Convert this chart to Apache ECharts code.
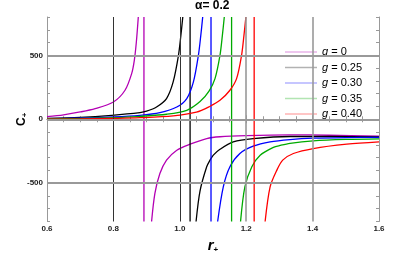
<!DOCTYPE html>
<html><head><meta charset="utf-8">
<script src="https://cdn.jsdelivr.net/npm/echarts@6/dist/echarts.min.js"></script>
<style>html,body{margin:0;padding:0;background:#fff}#c{width:415px;height:260px}</style>
</head><body><div id="c"></div>
<script>
// ---- data ----
const gLabels = ['g = 0', 'g = 0.25', 'g = 0.30', 'g = 0.35', 'g = 0.40'];
const poles = [0.892, 1.031, 1.094, 1.156, 1.224];

const upR_g0 = [0.6, 0.65, 0.7, 0.745, 0.8, 0.835, 0.855, 0.863, 0.869, 0.875];
const upC_g0 = [20, 35, 57, 83, 135, 227, 357, 461, 600, 800];
const loR_g0 = [0.915, 0.925, 0.94, 0.96, 0.991, 1.031, 1.081, 1.121, 1.2, 1.33, 1.45, 1.6];
const loC_g0 = [-800, -580, -425, -320, -242, -195, -151, -137, -128, -122, -125, -132];

const upR_g25 = [0.6, 0.7, 0.795, 0.88, 0.9, 0.93, 0.96, 0.98, 0.996, 1.003, 1.009];
const upC_g25 = [7, 15, 31, 52, 63, 96, 162, 292, 500, 650, 800];
const loR_g25 = [1.049, 1.061, 1.081, 1.091, 1.101, 1.121, 1.161, 1.221, 1.332, 1.45, 1.6];
const loC_g25 = [-800, -560, -372, -320, -281, -235, -177, -151, -135, -135, -138];

const upR_g30 = [0.6, 0.7, 0.8, 0.88, 0.94, 0.991, 1.021, 1.041, 1.056, 1.063, 1.069];
const upC_g30 = [4, 10, 18, 31, 52, 96, 162, 292, 500, 650, 800];
const loR_g30 = [1.114, 1.131, 1.151, 1.181, 1.221, 1.272, 1.332, 1.402, 1.5, 1.6];
const loC_g30 = [-800, -529, -372, -268, -211, -177, -159, -148, -143, -142];

const upR_g35 = [0.6, 0.7, 0.8, 0.88, 0.96, 1.021, 1.061, 1.088, 1.106, 1.121, 1.128, 1.134];
const upC_g35 = [2, 6, 12, 23, 39, 70, 138, 220, 318, 500, 650, 800];
const loR_g35 = [1.183, 1.196, 1.217, 1.242, 1.282, 1.302, 1.332, 1.402, 1.5, 1.6];
const loC_g35 = [-800, -529, -372, -281, -220, -205, -188, -169, -158, -153];

const upR_g40 = [0.6, 0.7, 0.8, 0.88, 0.98, 1.05, 1.09, 1.121, 1.151, 1.171, 1.186, 1.193, 1.199];
const upC_g40 = [0, 3, 7, 12, 26, 55, 100, 148, 227, 318, 500, 650, 800];
const loR_g40 = [1.257, 1.272, 1.292, 1.31, 1.342, 1.402, 1.503, 1.6];
const loC_g40 = [-800, -529, -400, -320, -268, -229, -195, -177];

const xTicks = [0.6, 0.8, 1.0, 1.2, 1.4, 1.6];
const yTicks = [-500, 0, 500];
const xRange = [0.6, 1.6];
const yRange = [-800, 800];

// ---- styles ----
const colors = ['#b400b4', '#000000', '#0000ff', '#00aa00', '#ff0000'];
const xGridColors = ['#999', '#333', '#333', '#999', '#999', '#999'];
const FONT = 'Liberation Sans';

const ups = [[upR_g0, upC_g0], [upR_g25, upC_g25], [upR_g30, upC_g30], [upR_g35, upC_g35], [upR_g40, upC_g40]];
const los = [[loR_g0, loC_g0], [loR_g25, loC_g25], [loR_g30, loC_g30], [loR_g35, loC_g35], [loR_g40, loC_g40]];
const zip = (a, b) => a.map((v, i) => [v, b[i]]);

const series = [];
series.push({
  type: 'line', data: [], silent: true, z: 1,
  markLine: {
    silent: true, symbol: 'none', label: {show: false}, animation: false,
    data: [
      ...xTicks.slice(1, -1).map((x, i) => ({xAxis: x, lineStyle: {color: xGridColors[i + 1], width: xGridColors[i + 1] === '#333' ? 1 : 1.6, type: 'solid'}})),
      ...yTicks.map(y => ({yAxis: y, lineStyle: {color: '#999', width: 1.8, type: 'solid'}}))
    ]
  }
});
gLabels.forEach((name, k) => {
  const base = {type: 'line', name, showSymbol: false, symbol: 'none', z: 3,
    lineStyle: {color: colors[k], width: 1.3}, itemStyle: {color: colors[k]}};
  series.push(Object.assign({}, base, {data: zip(ups[k][0], ups[k][1]), smooth: 0.3}));
  series.push(Object.assign({}, base, {data: zip(los[k][0], los[k][1]), smooth: 0.3}));
  series.push(Object.assign({}, base, {data: [[poles[k], yRange[0]], [poles[k], yRange[1]]], smooth: false}));
});

const axisCommonX = {
  type: 'value', min: xRange[0], max: xRange[1], interval: 0.2,
  axisLine: {show: true, lineStyle: {color: '#999', width: 1}},
  axisTick: {show: true, inside: true, length: 4, lineStyle: {color: '#999'}},
  minorTick: {show: true, splitNumber: 4, length: 3, lineStyle: {color: '#999'}},
  splitLine: {show: false}
};
const axisCommonY = {
  type: 'value', min: yRange[0], max: yRange[1], interval: 100,
  axisLine: {show: true, lineStyle: {color: '#999', width: 1}},
  axisTick: {show: true, inside: true, length: 3, lineStyle: {color: '#999'}},
  splitLine: {show: false}
};

const chart = echarts.init(document.getElementById('c'), null, {renderer: 'canvas'});
chart.setOption({
  animation: false,
  backgroundColor: '#fff',
  title: {text: 'α= 0.2', left: 195, top: 0, padding: 0,
    textStyle: {fontSize: 12, fontWeight: 'bold', color: '#000', fontFamily: FONT}},
  grid: {left: 47, right: 36, top: 17, bottom: 38.5},
  legend: {
    orient: 'vertical', left: 280, top: 41.5, itemWidth: 32, itemHeight: 1.5, itemGap: 4.5,
    icon: 'rect', itemStyle: {opacity: 0.3},
    data: gLabels,
    formatter: n => '{i|g}{t|' + n.slice(1) + '}',
    textStyle: {fontSize: 11, color: '#000', fontFamily: FONT,
      rich: {i: {fontStyle: 'italic', fontSize: 11, fontFamily: FONT, color: '#000'},
             t: {fontSize: 11, fontFamily: FONT, color: '#000'}}}
  },
  xAxis: [
    Object.assign({}, axisCommonX, {position: 'bottom',
      axisLabel: {show: true, formatter: v => v.toFixed(1), fontSize: 8, fontWeight: 'bold', color: '#222', fontFamily: FONT, margin: 3},
      name: '{r|r}{s|+}', nameLocation: 'middle', nameGap: 16, nameMoveOverlap: false,
      nameTextStyle: {rich: {
        r: {fontSize: 15, fontWeight: 'bold', fontStyle: 'italic', color: '#000', fontFamily: FONT},
        s: {fontSize: 8, fontWeight: 'bold', color: '#000', fontFamily: FONT, padding: [8, 0, 0, 0]}}}}),
    Object.assign({}, axisCommonX, {position: 'top', axisLabel: {show: false}})
  ],
  yAxis: [
    Object.assign({}, axisCommonY, {position: 'left',
      axisLabel: {show: true, formatter: v => (yTicks.indexOf(v) >= 0 ? String(v) : ''), fontSize: 8, fontWeight: 'bold', color: '#222', fontFamily: FONT, margin: 4},
      name: '{c|C}{s|+}', nameLocation: 'middle', nameGap: 18, nameRotate: 90, nameMoveOverlap: false,
      nameTextStyle: {rich: {
        c: {fontSize: 12, fontWeight: 'bold', color: '#000', fontFamily: FONT},
        s: {fontSize: 8, fontWeight: 'bold', color: '#000', fontFamily: FONT, padding: [7, 0, 0, 0]}}}}),
    Object.assign({}, axisCommonY, {position: 'right', axisLabel: {show: false}})
  ],
  series
});
</script>
</body></html>
